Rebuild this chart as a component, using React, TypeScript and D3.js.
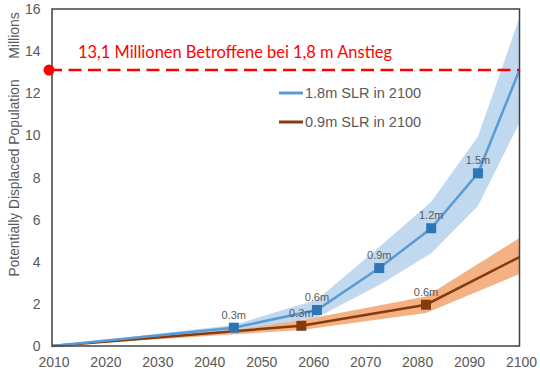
import React from "react";
import * as d3 from "d3";

// 1.8m SLR scenario (blue)
const highYears = [2010, 2045, 2061, 2073, 2083, 2092, 2100];
const highMid = [0, 0.87, 1.71, 3.7, 5.59, 8.2, 13.1];
const highUp = [0, 1.0, 2.2, 4.7, 6.85, 9.95, 15.6];
const highLo = [0, 0.75, 1.35, 2.9, 4.4, 6.65, 10.6];
const highMarkers = [
  { year: 2045, label: "0.3m" },
  { year: 2061, label: "0.6m" },
  { year: 2073, label: "0.9m" },
  { year: 2083, label: "1.2m" },
  { year: 2092, label: "1.5m" },
];

// 0.9m SLR scenario (brown / orange)
const lowYears = [2010, 2058, 2082, 2100];
const lowMid = [0, 0.96, 1.96, 4.22];
const lowUp = [0, 1.22, 2.35, 5.13];
const lowLo = [0, 0.76, 1.57, 3.42];
const lowMarkers = [
  { year: 2058, label: "0.3m" },
  { year: 2082, label: "0.6m" },
];

const xTicks = [2010, 2020, 2030, 2040, 2050, 2060, 2070, 2080, 2090, 2100];
const yTicks = [0, 2, 4, 6, 8, 10, 12, 14, 16];
const refValue = 13.1;
const refText = "13,1 Millionen Betroffene bei 1,8 m Anstieg";
const legendItems = ["1.8m SLR in 2100", "0.9m SLR in 2100"];

const W = 540;
const H = 373;
const left = 52;
const right = 519.5;
const top = 9;
const bottom = 346;

const gray = "#595959";

export default function App() {
  const x = d3.scaleLinear().domain([2010, 2100]).range([left, right]);
  const y = d3.scaleLinear().domain([0, 16]).range([bottom, top]);

  const band = (years: number[], lo: number[], up: number[]) =>
    d3
      .area<number>()
      .x((d, i) => x(years[i]))
      .y0((d, i) => y(lo[i]))
      .y1((d, i) => y(up[i]))(years) || "";

  const line = (years: number[], vals: number[]) =>
    d3
      .line<number>()
      .x((d, i) => x(years[i]))
      .y((d, i) => y(vals[i]))(years) || "";

  const valAt = (years: number[], vals: number[], yr: number) =>
    vals[years.indexOf(yr)];

  const ms = 10;

  return (
    <svg
      width={W}
      height={H}
      style={{ position: "absolute", left: 0, top: 0, background: "#fff" }}
      fontFamily="'Liberation Sans', Arial, sans-serif"
    >
      {/* bands */}
      <path d={band(lowYears, lowLo, lowUp)} fill="#F4B183" />
      <path d={band(highYears, highLo, highUp)} fill="#BDD7EE" opacity={0.95} />

      {/* lines */}
      <path d={line(lowYears, lowMid)} fill="none" stroke="#843C0C" strokeWidth={2.5} />
      <path d={line(highYears, highMid)} fill="none" stroke="#5B9BD5" strokeWidth={2.5} />

      {/* markers */}
      {lowMarkers.map((m) => {
        const v = valAt(lowYears, lowMid, m.year);
        return (
          <g key={"l" + m.year}>
            <rect
              x={x(m.year) - ms / 2}
              y={y(v) - ms / 2}
              width={ms}
              height={ms}
              fill="#843C0C"
            />
            <text
              x={x(m.year)}
              y={y(v) - 9}
              textAnchor="middle"
              fontSize={11}
              fill={gray}
            >
              {m.label}
            </text>
          </g>
        );
      })}
      {highMarkers.map((m) => {
        const v = valAt(highYears, highMid, m.year);
        return (
          <g key={"h" + m.year}>
            <rect
              x={x(m.year) - ms / 2}
              y={y(v) - ms / 2}
              width={ms}
              height={ms}
              fill="#2E75B6"
            />
            <text
              x={x(m.year)}
              y={y(v) - 9}
              textAnchor="middle"
              fontSize={11}
              fill={gray}
            >
              {m.label}
            </text>
          </g>
        );
      })}

      {/* frame */}
      <rect
        x={left}
        y={top}
        width={right - left}
        height={bottom - top}
        fill="none"
        stroke="#404040"
        strokeWidth={1.5}
      />

      {/* reference line */}
      <line
        x1={left - 3}
        x2={right}
        y1={y(refValue)}
        y2={y(refValue)}
        stroke="#FF0000"
        strokeWidth={2.5}
        strokeDasharray="13 6.5"
      />
      <circle cx={left - 3} cy={y(refValue)} r={5.5} fill="#FF0000" />
      <text
        x={78}
        y={58}
        fontFamily="Lato, 'Open Sans', sans-serif"
        fontSize={18}
        fill="#FF0000"
        textLength={314}
        lengthAdjust="spacingAndGlyphs"
      >
        {refText}
      </text>

      {/* legend */}
      {legendItems.map((t, i) => (
        <g key={t} transform={`translate(279, ${93 + i * 29})`}>
          <line
            x1={0}
            x2={24}
            y1={0}
            y2={0}
            stroke={i === 0 ? "#5B9BD5" : "#843C0C"}
            strokeWidth={3}
          />
          <text x={26} y={5} fontSize={14.5} fill={gray}>
            {t}
          </text>
        </g>
      ))}

      {/* axes */}
      {xTicks.map((t) => (
        <text
          key={t}
          x={x(t) + 2}
          y={367}
          textAnchor="middle"
          fontSize={14}
          fill={gray}
        >
          {t}
        </text>
      ))}
      {yTicks.map((t) => (
        <text
          key={t}
          x={40.5}
          y={y(t) + 5}
          textAnchor="end"
          fontSize={14}
          fill={gray}
        >
          {t}
        </text>
      ))}
      <text
        transform="translate(19, 35.5) rotate(-90)"
        textAnchor="middle"
        fontSize={14}
        fill={gray}
      >
        Millions
      </text>
      <text
        transform="translate(18.5, 178) rotate(-90)"
        textAnchor="middle"
        fontSize={13.8}
        fill={gray}
      >
        Potentially Displaced Population
      </text>
    </svg>
  );
}
